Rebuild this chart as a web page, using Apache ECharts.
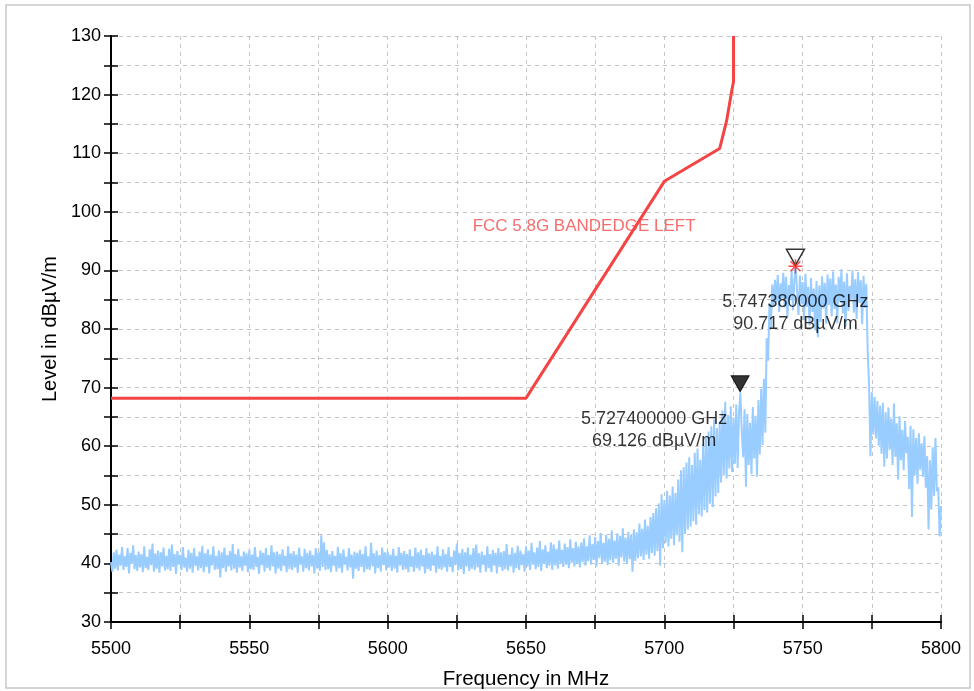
<!DOCTYPE html>
<html>
<head>
<meta charset="utf-8">
<script src="https://cdn.jsdelivr.net/npm/echarts@6/dist/echarts.min.js"></script>
<style>
	html, body { margin: 0; padding: 0; background: #fff; }
	#chart { width: 974px; height: 691px; }
</style>
</head>
<body>
<div id="chart"></div>
<script>
// spectrum trace, 0.5 MHz per point starting at 5500 MHz
const traceStart = 5500
const traceStep = 0.5
const traceLevels = [
	40.2, 38.6, 41.9, 39.1, 42.3, 38.8, 41.5, 39.6, 42.8, 38.9, 41.2, 39.4, 42.6, 38.3, 41.8, 39.9, 43.1, 39.0, 41.4, 38.7,
	42.0, 39.3, 41.6, 38.5, 42.9, 39.2, 41.1, 38.9, 42.4, 39.7, 43.4, 38.6, 41.7, 39.1, 42.2, 38.4, 41.9, 39.5, 42.7, 38.8,
	41.3, 39.0, 42.5, 38.7, 43.2, 39.4, 41.6, 38.2, 42.1, 39.8, 41.4, 38.9, 42.8, 39.3, 41.0, 38.6, 42.3, 39.1, 41.8, 38.4,
	42.6, 39.6, 41.2, 38.8, 42.0, 39.2, 43.0, 38.5, 41.7, 39.4, 42.4, 38.3, 41.5, 39.7, 42.9, 38.9, 41.3, 39.0, 42.2, 37.6,
	41.9, 39.2, 42.7, 38.6, 41.4, 39.5, 42.1, 38.8, 43.3, 39.1, 41.6, 38.4, 42.5, 39.3, 41.2, 38.7, 42.0, 39.6, 41.7, 38.5,
	42.3, 39.0, 41.5, 38.9, 42.8, 39.4, 41.1, 38.2, 42.2, 39.7, 41.8, 38.6, 42.6, 39.2, 41.4, 38.8, 43.1, 39.5, 41.9, 38.3,
	42.0, 39.1, 41.6, 38.7, 42.4, 39.6, 41.3, 38.5, 42.9, 39.0, 41.7, 38.9, 42.1, 39.3, 41.5, 38.4, 42.7, 39.8, 41.2, 38.6,
	42.5, 39.2, 41.8, 38.8, 42.2, 39.5, 41.4, 38.3, 42.6, 39.1, 41.9, 38.7, 44.8, 39.4, 43.6, 38.9, 42.3, 39.0, 41.6, 38.5,
	42.1, 39.6, 41.3, 38.6, 42.8, 39.2, 41.7, 38.4, 42.4, 39.8, 41.1, 38.8, 42.6, 39.3, 41.5, 37.4, 42.0, 39.1, 41.8, 38.7,
	42.3, 39.4, 41.6, 38.5, 42.9, 39.0, 41.2, 38.9, 43.5, 39.5, 41.7, 38.3, 42.2, 39.2, 41.4, 38.6, 42.7, 39.7, 41.9, 38.8,
	42.0, 39.3, 41.5, 38.7, 42.5, 39.1, 41.3, 38.4, 42.8, 39.6, 41.8, 38.9, 42.1, 39.0, 41.6, 38.5, 42.4, 39.4, 41.2, 38.6,
	42.7, 39.2, 41.9, 38.8, 42.3, 39.5, 41.4, 38.3, 42.6, 39.0, 41.7, 38.7, 42.0, 39.6, 41.5, 38.4, 42.9, 39.1, 41.3, 38.9,
	42.4, 39.3, 41.6, 38.6, 42.8, 39.4, 41.1, 38.5, 42.2, 39.7, 43.4, 38.8, 41.8, 39.0, 42.5, 38.2, 41.9, 39.5, 42.7, 38.7,
	41.5, 39.1, 42.6, 38.9, 43.2, 39.3, 41.7, 38.4, 42.0, 39.8, 41.4, 38.6, 42.9, 39.2, 41.6, 38.5, 42.3, 39.6, 41.8, 38.3,
	42.6, 39.4, 41.9, 38.7, 42.1, 39.0, 43.3, 38.8, 41.5, 39.5, 42.7, 38.4, 41.8, 39.2, 43.0, 38.9, 42.2, 39.7, 41.6, 38.6,
	42.9, 39.5, 42.2, 38.9, 43.5, 39.8, 41.9, 39.0, 42.7, 39.4, 43.8, 38.7, 42.4, 39.9, 43.1, 39.2, 42.0, 39.6, 43.6, 38.9,
	43.2, 39.7, 42.5, 39.1, 43.9, 40.0, 42.3, 39.4, 43.4, 39.8, 42.8, 39.2, 44.1, 40.1, 42.6, 39.5, 43.7, 39.9, 42.9, 39.3,
	43.6, 40.2, 44.3, 39.6, 42.9, 40.4, 44.8, 39.8, 43.3, 40.6, 44.5, 39.5, 43.8, 40.9, 45.2, 40.0, 43.5, 40.3, 44.9, 39.7,
	44.2, 40.5, 45.6, 40.1, 43.9, 40.8, 45.1, 39.6, 44.7, 41.0, 46.0, 40.3, 44.4, 39.9, 45.4, 40.7, 44.9, 38.6, 45.8, 40.4,
	45.3, 40.9, 46.8, 41.2, 45.9, 40.6, 47.5, 41.5, 46.4, 40.8, 47.9, 41.8, 48.6, 41.3, 49.4, 42.1, 50.2, 39.6, 51.8, 42.6,
	50.8, 43.5, 52.4, 42.9, 51.6, 44.2, 53.1, 43.1, 52.0, 44.8, 54.3, 43.7, 55.9, 41.9, 56.4, 45.0, 57.2, 45.8, 58.1, 46.3,
	56.8, 47.2, 58.9, 46.6, 59.6, 48.4, 57.7, 48.0, 60.3, 49.1, 61.8, 48.7, 62.5, 50.2, 63.4, 49.6, 64.6, 51.4, 63.1, 52.0,
	64.2, 53.8, 66.1, 55.0, 67.6, 54.5, 65.3, 56.2, 66.8, 55.6, 64.9, 57.0, 67.1, 56.3, 65.8, 69.1, 62.4, 58.1, 66.3, 53.1,
	65.5, 56.8, 64.0, 55.2, 66.7, 57.9, 65.2, 54.8, 67.9, 58.6, 69.8, 60.2, 71.5, 62.3, 78.4, 74.6, 84.2, 80.1, 87.6, 83.9,
	88.4, 84.6, 89.2, 82.9, 87.8, 85.3, 89.6, 83.7, 88.9, 81.8, 87.5, 84.9, 89.9, 83.2, 88.3, 90.7, 86.1, 82.4, 89.1, 84.3,
	88.0, 81.5, 89.4, 83.8, 87.2, 80.6, 88.7, 82.9, 86.9, 79.8, 88.2, 78.6, 87.4, 81.2, 89.0, 83.5, 87.9, 80.9, 89.3, 84.1,
	88.6, 82.2, 89.8, 83.4, 87.6, 81.0, 88.9, 84.7, 90.2, 82.6, 88.1, 80.4, 89.5, 83.1, 87.3, 85.0, 90.0, 82.8, 88.5, 81.7,
	89.7, 84.5, 88.3, 80.8, 89.1, 83.6, 87.7, 76.2, 70.4, 58.3, 69.2, 62.0, 68.4, 61.3, 67.7, 60.1, 66.9, 58.7, 67.4, 56.5,
	65.8, 57.9, 66.6, 59.4, 64.7, 56.8, 67.3, 58.2, 63.9, 54.3, 65.1, 57.6, 62.8, 55.9, 64.3, 58.8, 61.6, 52.7, 63.5, 47.9,
	62.9, 55.1, 61.4, 53.6, 62.2, 56.0, 60.5, 54.8, 61.7, 52.9, 58.3, 45.8, 57.6, 49.2, 59.8, 51.5, 61.4, 52.3, 53.0, 44.6,
	49.8,
]

// FCC band edge limit line
const limitFreqs = [5500, 5650, 5700, 5720, 5722.5, 5724.5, 5725, 5725]
const limitLevels = [68.2, 68.2, 105.2, 110.8, 115.5, 121.0, 122.2, 130]
const limitName = 'FCC 5.8G BANDEDGE LEFT'
const limitLabelAt = [5671, 97.6]

// markers
const markerFreqs = [5727.4, 5747.38]
const markerLevels = [69.126, 90.717]
const markerTexts = ['5.727400000 GHz\n69.126 dBµV/m', '5.747380000 GHz\n90.717 dBµV/m']

const font = '"Liberation Sans", Arial, sans-serif'
const asterisk = 'path://M9,0h2v20h-2z M0,9h20v2h-20z M2.2,3.6l1.4,-1.4l14.2,14.2l-1.4,1.4z M16.4,2.2l1.4,1.4l-14.2,14.2l-1.4,-1.4z'

const traceData = traceLevels.map((v, i) => [traceStart + i * traceStep, v])
const limitData = limitFreqs.map((f, i) => [f, limitLevels[i]])

const chart = echarts.init(document.getElementById('chart'), null, { renderer: 'canvas' })

const dashed = { show: true, lineStyle: { color: '#c4c4c4', type: [4, 4], width: 1 } }
const axisLine = { show: true, onZero: false, lineStyle: { color: '#000', width: 2 } }

const option = {
	animation: false,
	backgroundColor: '#fff',
	textStyle: { fontFamily: font },
	graphic: [
		{
			type: 'rect',
			shape: { x: 6, y: 5, width: 964, height: 683 },
			style: { fill: 'none', stroke: '#c8c8c8', lineWidth: 1.5 },
			silent: true,
		},
	],
	grid: { left: 111, right: 33, top: 36, bottom: 69, containLabel: false, outerBoundsMode: 'none' },
	xAxis: [
		{
			type: 'value',
			min: 5500,
			max: 5800,
			interval: 25,
			name: 'Frequency in MHz',
			nameLocation: 'middle',
			nameGap: 47,
			nameTextStyle: { fontSize: 20.5, color: '#000', fontFamily: font },
			axisLine,
			axisTick: { show: true, inside: false, length: 7, lineStyle: { color: '#000', width: 1.5 } },
			axisLabel: {
				fontSize: 18,
				color: '#000',
				margin: 18,
				formatter: v => (v % 50 === 0 ? String(v) : ''),
			},
			splitLine: dashed,
		},
		{
			type: 'value',
			position: 'bottom',
			offset: 0,
			min: 5500,
			max: 5800,
			interval: 25,
			axisLine,
			axisTick: { show: true, inside: true, length: 7, lineStyle: { color: '#000', width: 1.5 } },
			axisLabel: { show: false },
			splitLine: { show: false },
		},
	],
	yAxis: [
		{
			type: 'value',
			min: 30,
			max: 130,
			interval: 5,
			name: 'Level in dBµV/m',
			nameLocation: 'middle',
			nameGap: 43,
			nameTextStyle: { fontSize: 20, color: '#000', fontFamily: font },
			axisLine,
			axisTick: { show: true, inside: false, length: 7, lineStyle: { color: '#000', width: 1.5 } },
			axisLabel: {
				fontSize: 18,
				color: '#000',
				margin: 10,
				formatter: v => (v % 10 === 0 ? String(v) : ''),
			},
			splitLine: dashed,
		},
		{
			type: 'value',
			position: 'left',
			offset: 0,
			min: 30,
			max: 130,
			interval: 5,
			axisLine,
			axisTick: { show: true, inside: true, length: 7, lineStyle: { color: '#000', width: 1.5 } },
			axisLabel: { show: false },
			splitLine: { show: false },
		},
	],
	series: [
		{
			type: 'line',
			data: traceData,
			showSymbol: false,
			sampling: null,
			lineStyle: { color: '#99ccff', width: 2 },
			z: 2,
		},
		{
			type: 'line',
			data: limitData,
			showSymbol: false,
			lineStyle: { color: '#f44444', width: 3 },
			z: 3,
		},
		{
			type: 'scatter',
			data: [limitLabelAt],
			symbolSize: 1,
			itemStyle: { color: 'transparent' },
			label: {
				show: true,
				position: 'inside',
				formatter: limitName,
				color: '#f24848',
				fontSize: 17,
				fontFamily: font,
			},
			z: 4,
		},
		// filled and open triangles above each marker peak
		{
			type: 'scatter',
			data: markerFreqs.map((f, i) => ({
				value: [f, markerLevels[i]],
				itemStyle: i === 0
					? { color: '#000', borderColor: '#000', borderWidth: 1 }
					: { color: 'rgba(255,255,255,0)', borderColor: '#000', borderWidth: 1.5 },
			})),
			symbol: 'triangle',
			symbolRotate: 180,
			symbolSize: [18, 16],
			symbolOffset: [0, -9],
			z: 5,
		},
		{
			type: 'scatter',
			data: [[markerFreqs[1], markerLevels[1]]],
			symbol: asterisk,
			symbolSize: 14,
			itemStyle: { color: '#ff1a1a' },
			z: 6,
		},
		{
			type: 'scatter',
			data: markerFreqs.map((f, i) => ({
				value: [f, markerLevels[i]],
				label: {
					offset: i === 0 ? [-86, 37] : [0, 47],
				},
			})),
			symbolSize: 1,
			itemStyle: { color: 'transparent' },
			label: {
				show: true,
				position: 'inside',
				formatter: p => markerTexts[p.dataIndex],
				color: '#000',
				fontSize: 18,
				lineHeight: 22,
				align: 'center',
				fontFamily: font,
			},
			z: 7,
		},
	],
}

chart.setOption(option)
</script>
</body>
</html>
